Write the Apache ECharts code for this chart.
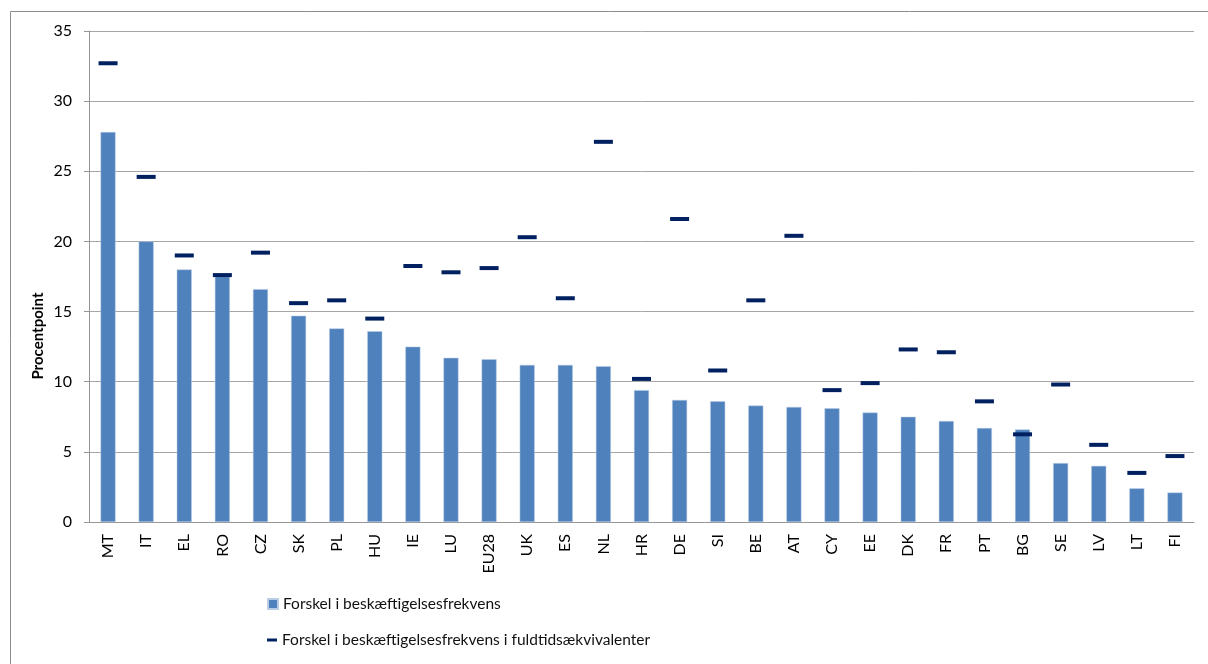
<!DOCTYPE html>
<html>
<head>
<meta charset="utf-8">
<script src="https://cdn.jsdelivr.net/npm/echarts@6/dist/echarts.min.js"></script>
<style>
  html, body { margin: 0; padding: 0; background: #fff; }
  #chart { width: 1208px; height: 664px; }
</style>
</head>
<body>
<div id="chart"></div>
<script>
// lande / kategorier
var countries = ["MT", "IT", "EL", "RO", "CZ", "SK", "PL", "HU", "IE", "LU", "EU28", "UK", "ES", "NL",
  "HR", "DE", "SI", "BE", "AT", "CY", "EE", "DK", "FR", "PT", "BG", "SE", "LV", "LT", "FI"];

// Forskel i beskæftigelsesfrekvens (søjler)
var gapRate = [27.8, 20.0, 18.0, 17.5, 16.6, 14.7, 13.8, 13.6, 12.5, 11.7, 11.6, 11.2, 11.2, 11.1,
  9.4, 8.7, 8.6, 8.3, 8.2, 8.1, 7.8, 7.5, 7.2, 6.7, 6.6, 4.2, 4.0, 2.4, 2.1];

// Forskel i fuldtidsækvivalenter (streger)
var gapFte = [32.7, 24.6, 19.0, 17.6, 19.2, 15.6, 15.8, 14.5, 18.25, 17.8, 18.1, 20.3, 15.95, 27.1,
  10.2, 21.6, 10.8, 15.8, 20.4, 9.4, 9.9, 12.3, 12.1, 8.6, 6.25, 9.8, 5.5, 3.5, 4.7];

var yTicks = [0, 5, 10, 15, 20, 25, 30, 35];

var nameBar = "Forskel i beskæftigelsesfrekvens";
var nameFte = "Forskel i beskæftigelsesfrekvens i fuldtidsækvivalenter";

var font = "Lato, 'Liberation Sans', sans-serif";

var chart = echarts.init(document.getElementById("chart"));

var option = {
  animation: false,
  textStyle: { fontFamily: font },
  grid: { left: 89, right: 14, top: 31, bottom: 142 },
  graphic: [
    {
      type: "rect",
      shape: { x: 10.5, y: 11.5, width: 1300, height: 700 },
      style: { fill: null, stroke: "#8c8c8c", lineWidth: 1 },
      silent: true
    },
    {
      type: "text",
      x: 38,
      y: 336,
      rotation: Math.PI / 2,
      style: {
        text: "Procentpoint",
        font: "bold 15px " + font,
        fill: "#000",
        align: "center",
        verticalAlign: "middle"
      }
    }
  ],
  legend: [
    {
      orient: "vertical",
      left: 267,
      top: 596,
      padding: 0,
      itemWidth: 10,
      itemHeight: 10,
      textStyle: { fontSize: 15.5, color: "#111", fontFamily: font },
      data: [{ name: nameBar, icon: "rect" }]
    },
    {
      orient: "vertical",
      left: 267,
      top: 632,
      padding: 0,
      itemWidth: 10,
      itemHeight: 3,
      textStyle: { fontSize: 15.5, color: "#111", fontFamily: font },
      data: [{ name: nameFte, icon: "rect" }]
    }
  ],
  xAxis: {
    type: "category",
    data: countries,
    axisLine: { lineStyle: { color: "#969696", width: 1 } },
    axisTick: { show: false },
    axisLabel: {
      rotate: 90,
      margin: 12,
      fontSize: 16,
      color: "#000",
      fontFamily: font
    }
  },
  yAxis: {
    type: "value",
    min: yTicks[0],
    max: yTicks[yTicks.length - 1],
    interval: 5,
    axisLine: { show: true, lineStyle: { color: "#969696", width: 1 } },
    axisTick: { show: true, length: 5, lineStyle: { color: "#969696" } },
    splitLine: { lineStyle: { color: "#a6a6a6", width: 1 } },
    axisLabel: { fontSize: 16, color: "#000", margin: 17, fontFamily: font }
  },
  series: [
    {
      name: nameBar,
      type: "bar",
      data: gapRate,
      barWidth: 15,
      itemStyle: { color: "#4f81bd", borderColor: "#b9cde5", borderWidth: 0.5 },
      z: 2
    },
    {
      name: nameFte,
      type: "scatter",
      data: gapFte,
      symbol: "rect",
      symbolSize: [19, 4],
      itemStyle: { color: "#002060", opacity: 1 },
      z: 3
    }
  ]
};

chart.setOption(option);
</script>
</body>
</html>
